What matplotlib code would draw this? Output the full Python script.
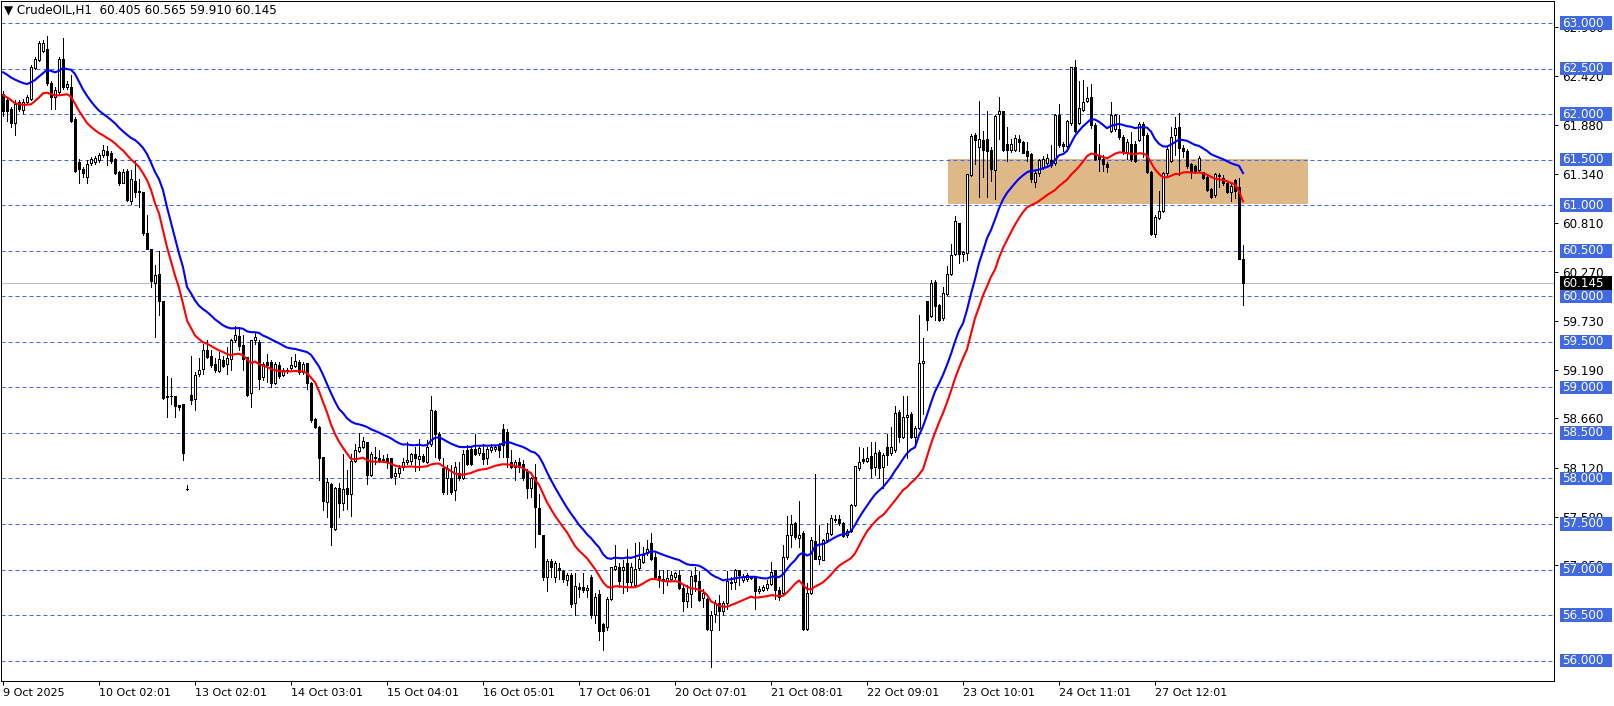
import numpy as np
import matplotlib
matplotlib.use("Agg")
import matplotlib.pyplot as plt
import matplotlib.transforms as mtransforms
from matplotlib.patches import Rectangle

# CrudeOIL H1 bars, first bar 9 Oct 2025 02:00
bar_open = [
    62.22, 62.16, 62.06, 61.90, 62.13, 62.05, 62.13, 62.17, 62.51, 62.59,
    62.69, 62.71, 62.34, 62.19, 62.24, 62.61, 62.30, 62.30, 61.95, 61.47,
    61.40, 61.31, 61.46, 61.47, 61.50, 61.55, 61.60, 61.57, 61.51, 61.37,
    61.24, 61.38, 61.05, 61.27, 61.16, 61.15, 60.69, 60.52, 60.15, 60.24,
    59.95, 58.89, 58.90, 58.91, 58.81, 58.82, 57.88, 58.92, 58.87, 59.15,
    59.20, 59.41, 59.34, 59.26, 59.18, 59.30, 59.26, 59.31, 59.52, 59.56,
    59.47, 59.33, 58.94, 59.52, 59.50, 59.11, 59.28, 59.28, 59.05, 59.25,
    59.14, 59.18, 59.21, 59.24, 59.28, 59.17, 59.27, 59.05, 58.65, 58.57,
    58.24, 57.74, 57.94, 57.45, 57.89, 57.73, 57.89, 57.83, 58.19, 58.30,
    58.34, 58.40, 58.04, 58.24, 58.22, 58.21, 58.22, 58.22, 58.03, 58.06,
    58.13, 58.18, 58.19, 58.27, 58.21, 58.25, 58.18, 58.38, 58.74, 58.49,
    58.11, 58.00, 58.00, 57.87, 58.06, 58.01, 58.31, 58.32, 58.32, 58.28,
    58.28, 58.23, 58.31, 58.32, 58.38, 58.54, 58.51, 58.18, 58.13, 58.18,
    58.16, 58.08, 57.90, 58.02, 57.68, 57.38, 56.92, 57.09, 56.92, 57.02,
    56.98, 56.89, 56.94, 56.63, 56.81, 56.81, 56.77, 56.92, 56.50, 56.73,
    56.40, 56.37, 56.68, 57.01, 57.03, 57.00, 57.07, 56.86, 56.83, 57.02,
    57.08, 57.18, 57.29, 57.14, 56.93, 56.90, 56.87, 56.90, 56.92, 56.94,
    56.80, 56.65, 56.73, 56.94, 56.87, 56.69, 56.68, 56.34, 56.51, 56.63,
    56.54, 56.63, 56.85, 56.86, 56.99, 56.88, 56.90, 56.92, 56.92, 56.76,
    56.78, 56.80, 56.84, 56.99, 56.78, 56.74, 57.14, 57.38, 57.51, 57.35,
    57.40, 56.35, 56.74, 57.31, 57.12, 57.11, 57.32, 57.39, 57.56, 57.56,
    57.51, 57.38, 57.42, 57.71, 58.11, 58.21, 58.19, 58.25, 58.13, 58.29,
    58.13, 58.34, 58.28, 58.31, 58.73, 58.46, 58.68, 58.71, 58.46, 58.55,
    59.27, 59.95, 59.78, 60.16, 59.90, 59.76, 60.02, 60.24, 60.46, 60.80,
    60.46, 60.48, 61.33, 61.77, 61.64, 61.72, 61.73, 61.61, 61.39, 62.00,
    62.03, 61.67, 61.61, 61.61, 61.73, 61.69, 61.60, 61.56, 61.26, 61.35,
    61.42, 61.46, 61.50, 61.46, 61.99, 61.67, 61.65, 61.90, 62.52, 61.90,
    62.05, 62.14, 62.19, 61.88, 61.55, 61.51, 61.45, 61.82, 61.84, 61.84,
    61.75, 61.58, 61.67, 61.67, 61.72, 61.89, 61.77, 61.36, 60.68, 60.86,
    60.94, 61.35, 61.49, 61.77, 61.86, 61.63, 61.60, 61.45, 61.43, 61.39,
    61.36, 61.31, 61.18, 61.11, 61.33, 61.30, 61.24, 61.14, 61.28, 61.20, 60.405,
]
bar_high = [
    62.25, 62.18, 62.08, 62.15, 62.16, 62.17, 62.21, 62.54, 62.63, 62.80,
    62.81, 62.86, 62.36, 62.30, 62.63, 62.84, 62.36, 62.43, 61.97, 61.51,
    61.42, 61.50, 61.53, 61.54, 61.57, 61.66, 61.65, 61.59, 61.52, 61.38,
    61.40, 61.40, 61.39, 61.49, 61.29, 61.15, 60.89, 60.52, 60.34, 60.50,
    59.95, 59.12, 59.10, 58.91, 58.81, 58.82, 57.93, 59.34, 59.17, 59.32,
    59.48, 59.52, 59.41, 59.32, 59.39, 59.35, 59.44, 59.53, 59.67, 59.66,
    59.57, 59.33, 59.52, 59.60, 59.52, 59.28, 59.37, 59.30, 59.28, 59.28,
    59.21, 59.21, 59.33, 59.37, 59.30, 59.28, 59.27, 59.06, 58.66, 58.58,
    58.24, 58.01, 57.95, 57.91, 57.95, 58.27, 58.09, 58.27, 58.38, 58.50,
    58.46, 58.40, 58.29, 58.35, 58.31, 58.26, 58.27, 58.23, 58.11, 58.15,
    58.22, 58.40, 58.28, 58.35, 58.43, 58.27, 58.42, 58.91, 58.75, 58.51,
    58.22, 58.15, 58.15, 58.18, 58.18, 58.31, 58.37, 58.35, 58.49, 58.35,
    58.38, 58.35, 58.38, 58.37, 58.39, 58.60, 58.54, 58.31, 58.20, 58.22,
    58.20, 58.10, 58.02, 58.16, 57.83, 57.38, 57.12, 57.12, 57.09, 57.07,
    57.00, 56.96, 56.96, 56.96, 56.85, 56.96, 56.83, 56.94, 56.74, 56.78,
    56.41, 56.70, 57.03, 57.27, 57.07, 57.10, 57.23, 57.07, 57.29, 57.30,
    57.25, 57.32, 57.40, 57.18, 57.00, 56.99, 56.99, 56.98, 56.97, 56.99,
    56.83, 56.83, 56.98, 57.03, 56.98, 56.79, 56.69, 56.54, 56.66, 56.72,
    56.65, 56.98, 56.92, 57.01, 57.00, 56.95, 56.96, 56.93, 56.92, 56.82,
    56.83, 56.88, 57.08, 57.00, 56.81, 57.27, 57.59, 57.60, 57.52, 57.75,
    57.42, 56.85, 57.36, 58.05, 57.49, 57.34, 57.51, 57.60, 57.60, 57.60,
    57.52, 57.45, 57.72, 58.14, 58.35, 58.33, 58.35, 58.40, 58.40, 58.31,
    58.28, 58.49, 58.57, 58.80, 58.75, 58.90, 58.90, 58.73, 58.58, 59.80,
    59.54, 59.95, 60.18, 60.18, 59.92, 60.10, 60.33, 60.57, 60.88, 60.81,
    60.50, 61.34, 61.78, 61.79, 62.14, 61.82, 62.04, 61.64, 61.99, 62.19,
    62.04, 61.86, 61.73, 61.77, 61.77, 61.71, 61.69, 61.57, 61.38, 61.51,
    61.54, 61.56, 61.66, 62.00, 62.11, 61.69, 61.94, 62.52, 62.59, 62.36,
    62.37, 62.30, 62.33, 61.90, 61.67, 61.55, 61.47, 62.13, 62.00, 61.99,
    61.77, 61.73, 61.80, 61.71, 61.91, 61.91, 61.79, 61.38, 60.89, 61.16,
    61.36, 61.64, 61.86, 61.97, 62.01, 61.66, 61.62, 61.46, 61.44, 61.54,
    61.36, 61.32, 61.19, 61.35, 61.35, 61.33, 61.26, 61.24, 61.29, 61.30, 60.565,
]
bar_low = [
    61.98, 61.92, 61.86, 61.77, 62.04, 62.01, 62.11, 62.15, 62.50, 62.58,
    62.68, 62.32, 62.06, 62.06, 62.21, 62.28, 62.28, 61.91, 61.36, 61.24,
    61.31, 61.24, 61.44, 61.45, 61.48, 61.53, 61.44, 61.46, 61.34, 61.22,
    61.24, 61.05, 61.01, 61.09, 60.98, 60.67, 60.52, 60.10, 59.55, 59.79,
    58.87, 58.68, 58.82, 58.68, 58.75, 58.20, 57.87, 58.82, 58.75, 59.13,
    59.15, 59.32, 59.22, 59.17, 59.17, 59.22, 59.15, 59.19, 59.50, 59.41,
    59.19, 58.90, 58.79, 59.48, 58.98, 59.08, 59.06, 59.00, 59.04, 59.10,
    59.13, 59.16, 59.19, 59.22, 59.15, 59.15, 58.98, 58.62, 58.55, 57.98,
    57.65, 57.58, 57.27, 57.43, 57.58, 57.65, 57.67, 57.59, 58.18, 58.29,
    58.33, 57.94, 58.03, 58.16, 58.18, 58.18, 58.11, 58.01, 57.94, 58.02,
    58.09, 58.16, 58.16, 58.08, 58.09, 58.18, 58.17, 58.36, 58.24, 58.20,
    57.83, 57.83, 57.83, 57.76, 57.98, 57.99, 58.15, 58.15, 58.26, 58.26,
    58.16, 58.16, 58.29, 58.30, 58.24, 58.24, 58.13, 58.11, 57.98, 58.07,
    57.98, 57.78, 57.80, 57.25, 57.39, 56.88, 56.76, 56.92, 56.86, 56.90,
    56.86, 56.83, 56.59, 56.50, 56.70, 56.75, 56.70, 56.47, 56.41, 56.23,
    56.12, 56.34, 56.66, 56.99, 56.81, 56.74, 56.76, 56.81, 56.81, 57.00,
    57.07, 57.16, 57.10, 56.90, 56.81, 56.74, 56.83, 56.87, 56.90, 56.79,
    56.54, 56.59, 56.59, 56.76, 56.65, 56.59, 56.34, 55.93, 56.42, 56.34,
    56.50, 56.57, 56.79, 56.79, 56.83, 56.86, 56.87, 56.90, 56.57, 56.74,
    56.76, 56.77, 56.83, 56.68, 56.66, 56.72, 57.12, 57.25, 57.34, 57.25,
    56.34, 56.34, 56.73, 57.12, 57.06, 57.10, 57.31, 57.38, 57.52, 57.49,
    57.36, 57.36, 57.41, 57.70, 58.09, 58.17, 58.18, 58.02, 58.04, 58.01,
    57.89, 58.15, 58.26, 58.29, 58.40, 58.44, 58.22, 58.44, 58.37, 58.54,
    58.71, 59.63, 59.77, 59.74, 59.73, 59.74, 60.01, 60.23, 60.45, 60.37,
    60.39, 60.40, 61.32, 61.45, 61.09, 61.31, 61.09, 61.27, 61.07, 61.73,
    61.60, 61.49, 61.58, 61.60, 61.60, 61.57, 61.49, 61.25, 61.20, 61.32,
    61.40, 61.44, 61.42, 61.44, 61.64, 61.60, 61.63, 61.88, 61.80, 61.89,
    62.04, 62.13, 61.85, 61.50, 61.38, 61.38, 61.36, 61.80, 61.82, 61.73,
    61.56, 61.51, 61.49, 61.48, 61.71, 61.53, 61.35, 60.67, 60.65, 60.85,
    60.93, 61.31, 61.48, 61.55, 61.33, 61.53, 61.41, 61.30, 61.35, 61.38,
    61.29, 61.16, 61.08, 61.09, 61.20, 61.22, 61.13, 61.05, 61.08, 60.41, 59.91,
]
bar_close = [
    62.04, 62.03, 61.90, 62.11, 62.06, 62.13, 62.19, 62.52, 62.61, 62.78,
    62.78, 62.34, 62.19, 62.26, 62.61, 62.30, 62.33, 61.93, 61.38, 61.40,
    61.35, 61.45, 61.51, 61.52, 61.55, 61.61, 61.55, 61.49, 61.35, 61.24,
    61.37, 61.06, 61.29, 61.14, 61.14, 60.69, 60.52, 60.17, 60.23, 59.95,
    58.88, 58.91, 58.91, 58.80, 58.79, 58.28, 57.88, 58.86, 59.14, 59.19,
    59.41, 59.33, 59.25, 59.19, 59.31, 59.24, 59.32, 59.52, 59.57, 59.45,
    59.31, 58.92, 59.52, 59.55, 59.09, 59.26, 59.25, 59.05, 59.26, 59.12,
    59.19, 59.19, 59.25, 59.29, 59.17, 59.26, 59.05, 58.64, 58.56, 58.23,
    57.75, 57.96, 57.47, 57.89, 57.73, 57.88, 57.83, 58.19, 58.31, 58.35,
    58.41, 58.04, 58.27, 58.22, 58.20, 58.20, 58.18, 58.02, 58.06, 58.11,
    58.18, 58.20, 58.27, 58.22, 58.25, 58.19, 58.34, 58.75, 58.49, 58.22,
    57.85, 58.11, 57.85, 58.13, 58.01, 58.27, 58.16, 58.16, 58.27, 58.33,
    58.21, 58.32, 58.35, 58.35, 58.31, 58.37, 58.24, 58.13, 58.18, 58.13,
    58.00, 57.90, 58.00, 57.69, 57.39, 56.92, 57.09, 57.03, 57.07, 56.99,
    56.90, 56.94, 56.62, 56.82, 56.79, 56.77, 56.80, 56.50, 56.70, 56.33,
    56.32, 56.68, 57.03, 57.04, 56.87, 57.03, 56.86, 57.03, 57.01, 57.12,
    57.16, 57.23, 57.12, 56.92, 56.88, 56.87, 56.91, 56.94, 56.96, 56.80,
    56.65, 56.74, 56.93, 56.87, 56.66, 56.74, 56.35, 56.50, 56.63, 56.54,
    56.63, 56.87, 56.86, 56.99, 56.94, 56.92, 56.94, 56.91, 56.76, 56.79,
    56.81, 56.84, 56.97, 56.77, 56.70, 57.14, 57.38, 57.50, 57.36, 57.38,
    56.35, 56.74, 57.32, 57.12, 57.15, 57.32, 57.40, 57.57, 57.54, 57.51,
    57.37, 57.42, 57.71, 58.14, 58.18, 58.19, 58.23, 58.12, 58.28, 58.11,
    58.26, 58.26, 58.34, 58.72, 58.46, 58.68, 58.70, 58.45, 58.55, 59.27,
    59.29, 59.74, 60.15, 59.89, 59.74, 60.04, 60.24, 60.45, 60.83, 60.46,
    60.49, 61.34, 61.76, 61.72, 61.73, 61.61, 61.60, 61.40, 61.98, 62.03,
    61.61, 61.61, 61.67, 61.74, 61.69, 61.57, 61.54, 61.29, 61.35, 61.50,
    61.51, 61.52, 61.44, 61.99, 61.66, 61.65, 61.92, 62.52, 61.82, 62.07,
    62.13, 62.18, 61.88, 61.51, 61.51, 61.45, 61.42, 61.99, 61.99, 61.75,
    61.58, 61.69, 61.51, 61.49, 61.89, 61.77, 61.36, 60.68, 60.87, 60.94,
    61.35, 61.62, 61.75, 61.85, 61.63, 61.60, 61.43, 61.38, 61.38, 61.52,
    61.30, 61.17, 61.09, 61.34, 61.32, 61.24, 61.14, 61.21, 61.16, 60.41, 60.145,
]

time_labels = ["9 Oct 2025", "10 Oct 02:01", "13 Oct 02:01", "14 Oct 03:01",
               "15 Oct 04:01", "16 Oct 05:01", "17 Oct 06:01", "20 Oct 07:01",
               "21 Oct 08:01", "22 Oct 09:01", "23 Oct 10:01", "24 Oct 11:01",
               "27 Oct 12:01"]
bars_per_label = 24

level_prices = [63.0, 62.5, 62.0, 61.5, 61.0, 60.5, 60.0, 59.5,
                59.0, 58.5, 58.0, 57.5, 57.0, 56.5, 56.0]
# auto scale labels (the ones not fully hidden by the level boxes)
scale_prices = [62.96, 62.42, 61.88, 61.34, 60.81, 60.27, 59.73,
                59.19, 58.66, 58.12, 57.58, 57.05]
last_price = 60.145
title = "\u25BC CrudeOIL,H1  60.405 60.565 59.910 60.145"

# rectangle object drawn on the chart
zone_bars = (236.25, 326.25)
zone_prices = (61.01, 61.51)

# moving averages of highs (blue) and lows (red), values at the first bar
ma_span = 21
blue_first = 62.46
red_first = 62.21


def ema(values, first, span):
    k = 2.0 / (span + 1)
    out = [first]
    for v in values[1:]:
        out.append(out[-1] + k * (v - out[-1]))
    return np.array(out)


o = np.array(bar_open)
h = np.array(bar_high)
l = np.array(bar_low)
c = np.array(bar_close)
x = np.arange(len(c))
up = c >= o

blue_ma = ema(bar_high, blue_first, ma_span)
red_ma = ema(bar_low, red_first, ma_span)

W, H = 1614, 706
fig = plt.figure(figsize=(W / 100, H / 100), dpi=100)
fig.patch.set_facecolor("white")
ax = fig.add_axes([1 / W, 25 / H, 1553 / W, 680.5 / H])
ax.set_xlim(-0.5, 387.75)
ax.set_ylim(55.776, 63.248)

level_blue = "#4169E1"
font = {"family": "DejaVu Sans", "size": 8.6}
px = 0.72  # one pixel in points

# zone
ax.add_patch(Rectangle((zone_bars[0], zone_prices[0]), zone_bars[1] - zone_bars[0],
                       zone_prices[1] - zone_prices[0], facecolor="#DEB887",
                       edgecolor="none", zorder=1))

# horizontal levels and bid line
for p in level_prices:
    ax.axhline(p, color=level_blue, lw=px, ls=(0, (4, 3)), zorder=2)
ax.axhline(last_price, color="#C0C0C0", lw=px, zorder=2)

# candles
ax.vlines(x, l, h, color="black", lw=px, zorder=3, antialiased=False)
body_lo = np.minimum(o, c)
body_h = np.abs(c - o)
ax.bar(x[up], body_h[up], bottom=body_lo[up], width=0.7, color="white",
       edgecolor="black", lw=px, zorder=4, antialiased=False)
ax.bar(x[~up], body_h[~up], bottom=body_lo[~up], width=0.7, color="black",
       edgecolor="black", lw=px, zorder=4, antialiased=False)

# moving averages
ax.plot(x, blue_ma, color="#0000FF", lw=1.5, zorder=5)
ax.plot(x, red_ma, color="#FF0000", lw=1.5, zorder=5)

# title
ax.text(0.002, 0.996, title, transform=ax.transAxes, ha="left", va="top",
        fontdict=font, zorder=6)

# right price scale
ax.yaxis.tick_right()
ax.set_yticks(scale_prices)
ax.set_yticklabels([f"{p:.3f}" for p in scale_prices])
ax.tick_params(axis="y", length=3, width=px, pad=3, labelsize=8.6,
               colors="black")

trans = mtransforms.blended_transform_factory(ax.transAxes, ax.transData)
box_h = 0.148
for p in level_prices:
    ax.add_patch(Rectangle((1.0039, p - box_h / 2), 0.0334, box_h,
                           transform=trans, facecolor=level_blue,
                           edgecolor="none", clip_on=False, zorder=7))
    ax.text(1.0055, p, f"{p:.3f}", transform=trans, ha="left", va="center",
            color="white", fontdict=font, clip_on=False, zorder=8)
ax.add_patch(Rectangle((1.0039, last_price - box_h / 2), 0.0334, box_h,
                       transform=trans, facecolor="black", edgecolor="none",
                       clip_on=False, zorder=7))
ax.text(1.0055, last_price, f"{last_price:.3f}", transform=trans, ha="left",
        va="center", color="white", fontdict=font, clip_on=False, zorder=8)

# time scale
tick_pos = [i * bars_per_label for i in range(len(time_labels))]
ax.set_xticks(tick_pos)
ax.set_xticklabels(time_labels, ha="left")
ax.tick_params(axis="x", length=3, width=px, pad=2, labelsize=8.0)

for s in ax.spines.values():
    s.set_linewidth(px)
    s.set_color("black")

fig.savefig("out.png", dpi=100)
